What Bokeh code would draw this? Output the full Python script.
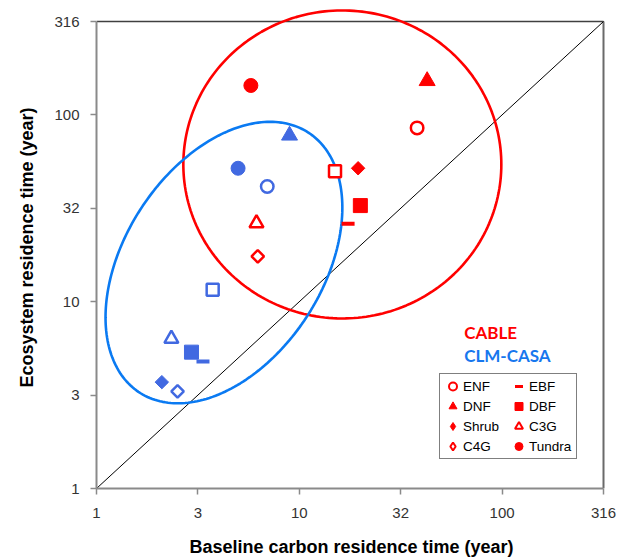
import numpy as np
from bokeh.plotting import figure
from bokeh.models import (FixedTicker, Range1d, Legend, LegendItem, Label,
                          ColumnDataSource, CustomJSTickFormatter)
from bokeh.embed import file_html
from bokeh.resources import INLINE

# ---------------- data ----------------
categories = ["ENF", "EBF", "DNF", "DBF", "Shrub", "C3G", "C4G", "Tundra", "Unlabeled"]
cable_baseline = [38.1, 17.4, 42.7, 20.0, 19.5, 6.15, 6.24, 5.77, 15.0]
cable_ecosystem = [85.2, 26.1, 152.0, 32.7, 51.8, 26.3, 17.5, 143.7, 50.0]
clm_baseline = [6.95, 3.35, 8.95, 2.94, 2.10, 2.34, 2.51, 4.99, 3.74]
clm_ecosystem = [41.4, 4.79, 77.6, 5.37, 3.71, 6.33, 3.31, 51.8, 11.6]
legend_order = ["ENF", "DNF", "Shrub", "C4G", "EBF", "DBF", "C3G", "Tundra"]
tick_values = [1, 10 ** 0.5, 10, 10 ** 1.5, 100, 10 ** 2.5]
tick_labels = ["1", "3", "10", "32", "100", "316"]
model_names = ["CABLE", "CLM-CASA"]

# ---------------- styling ----------------
RED = "#FF0000"
BLUE_MK = "#4169E1"
BLUE_EL = "#0A7AF2"
BLUE_TXT = "#1777EE"

# marker styles per category: (marker, filled, size, line_width, angle)
styles = {
    "ENF": ("circle", False, 12.5, 2.5, 0.0),
    "EBF": ("dash", True, 13, 4, 0.0),
    "DNF": ("triangle", True, 16, 1, 0.0),
    "DBF": ("square", True, 14, 1, 0.0),
    "Shrub": ("square", True, 9.5, 1, np.pi / 4),
    "C3G": ("triangle", False, 14, 2.5, 0.0),
    "C4G": ("square", False, 8.8, 2.5, np.pi / 4),
    "Tundra": ("circle", True, 14, 1, 0.0),
    "Unlabeled": ("square", False, 12, 2.5, 0.0),
}
legend_markers = {"Shrub": "diamond", "C4G": "diamond"}

# ---------------- layout ----------------
W, H = 617, 560
LEFT, RIGHT, TOP, BOTTOM = 96, 11, 6, 72
FRAME_W = W - LEFT - RIGHT
FRAME_H = H - TOP - BOTTOM
AX_MAX = 10 ** 2.5
PX_X = 507 / 2.5   # pixels per decade
PX_Y = 467 / 2.5
x_end = 10 ** (FRAME_W / PX_X)
y_end = 10 ** (FRAME_H / PX_Y)

p = figure(width=W, height=H, output_backend="svg", toolbar_location=None,
           x_axis_type="log", y_axis_type="log",
           x_range=Range1d(1, x_end), y_range=Range1d(1, y_end),
           min_border_left=LEFT, min_border_right=RIGHT,
           min_border_top=TOP, min_border_bottom=BOTTOM)
p.outline_line_color = None
p.grid.visible = False
p.background_fill_color = "white"
p.border_fill_color = "white"

fmt = CustomJSTickFormatter(args=dict(tvals=tick_values, tlabels=tick_labels), code="""
let best = 0; let bd = Infinity;
for (let i = 0; i < tvals.length; i++) {
  const d = Math.abs(Math.log(tick) - Math.log(tvals[i]));
  if (d < bd) { bd = d; best = i; }
}
return tlabels[best];
""")

for ax in (p.xaxis[0], p.yaxis[0]):
    ax.ticker = FixedTicker(ticks=tick_values, minor_ticks=[])
    ax.formatter = fmt
    ax.bounds = (1, AX_MAX)
    ax.axis_line_color = "#8a8a8a"
    ax.axis_line_width = 2
    ax.major_tick_line_color = "#8a8a8a"
    ax.major_tick_line_width = 1.5
    ax.major_tick_in = 0
    ax.major_tick_out = 6
    ax.minor_tick_in = 0
    ax.minor_tick_out = 0
    ax.major_label_text_font = "Liberation Sans"
    ax.major_label_text_font_size = "15px"
    ax.major_label_text_color = "#333333"
    ax.axis_label_text_font = "Liberation Sans"
    ax.axis_label_text_font_style = "bold"
    ax.axis_label_text_font_size = "18px"
    ax.axis_label_text_color = "black"

p.xaxis.axis_label = "Baseline carbon residence time (year)"
p.yaxis.axis_label = "Ecosystem residence time (year)"
p.xaxis.major_label_standoff = 13
p.xaxis.axis_label_standoff = 16
p.yaxis.major_label_standoff = 11
p.yaxis.axis_label_standoff = 14

# frame top/right border
p.line([1, AX_MAX], [AX_MAX, AX_MAX], line_color="#404040", line_width=1.5)
p.line([AX_MAX, AX_MAX], [1, AX_MAX], line_color="#6a6a6a", line_width=2)

# 1:1 line
p.line([1, AX_MAX], [1, AX_MAX], line_color="black", line_width=1)


def ellipse_pts(cx, cy, a, b, theta_deg, n=240):
    t = np.linspace(0, 2 * np.pi, n)
    th = np.radians(theta_deg)
    du = a * np.cos(th) * np.cos(t) - b * np.sin(th) * np.sin(t)
    dv = a * np.sin(th) * np.cos(t) + b * np.cos(th) * np.sin(t)
    return 10 ** (np.log10(cx) + du / PX_X), 10 ** (np.log10(cy) + dv / PX_Y)


ex, ey = ellipse_pts(16.3, 54.3, 159, 154, 0)
p.line(ex, ey, line_color=RED, line_width=2.6)
ex, ey = ellipse_pts(4.25, 16.2, 155, 99, 57)
p.line(ex, ey, line_color=BLUE_EL, line_width=2.6)


def draw(xs, ys, color):
    for i, cat in enumerate(categories):
        mk, filled, size, lw, ang = styles[cat]
        src = ColumnDataSource(dict(x=[xs[i]], y=[ys[i]]))
        p.scatter("x", "y", source=src, marker=mk, size=size, angle=ang,
                  line_color=color, line_width=lw,
                  fill_color=color if filled else "white", line_cap="butt")


draw(cable_baseline, cable_ecosystem, RED)
draw(clm_baseline, clm_ecosystem, BLUE_MK)

# legend (icons drawn from legend-only renderers with no visible point)
items = []
for cat in legend_order:
    mk, filled, size, lw, ang = styles[cat]
    mk = legend_markers.get(cat, mk)
    src = ColumnDataSource(dict(x=[np.nan], y=[np.nan]))
    r = p.scatter("x", "y", source=src, marker=mk, size=size,
                  line_color=RED, line_width=min(lw, 2.0) if mk != "dash" else 3,
                  fill_color=RED if filled else "white", line_cap="butt")
    items.append(LegendItem(label=cat, renderers=[r]))

legend = Legend(items=items, location=(343, 29), orientation="vertical", ncols=2,
                glyph_width=21, glyph_height=20, label_height=20, label_width=45,
                label_standoff=0, spacing=0, padding=2, margin=0,
                label_text_font="Liberation Sans", label_text_font_size="13.5px",
                label_text_color="black", border_line_color="black",
                border_line_width=1.5, background_fill_color="white",
                background_fill_alpha=1.0)
p.add_layout(legend, "center")

for name, yv, col in ((model_names[0], 6.85, RED), (model_names[1], 5.15, BLUE_TXT)):
    p.add_layout(Label(x=65.0, y=yv, text=name, text_color=col, text_font="Lato",
                       text_font_style="bold", text_font_size="17px",
                       text_baseline="middle", text_align="left"))

open("out.html", "w").write(file_html(p, INLINE))
